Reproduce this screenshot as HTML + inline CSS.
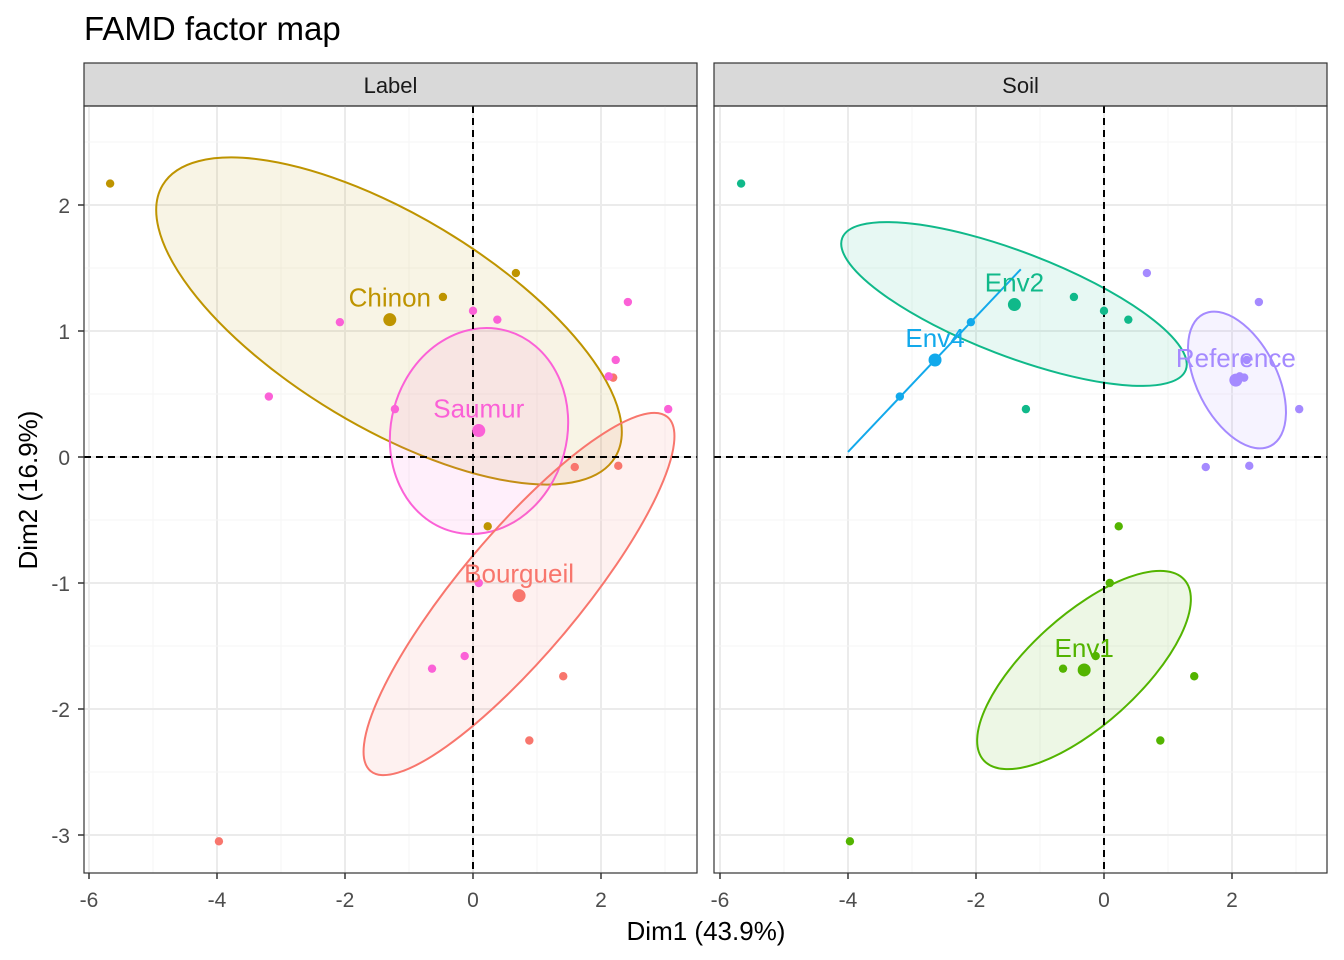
<!DOCTYPE html>
<html><head><meta charset="utf-8"><style>
html,body{margin:0;padding:0;background:#fff}
svg{display:block;font-family:"Liberation Sans",Arial,sans-serif}
</style></head><body>
<svg id="c" width="1344" height="960" viewBox="0 0 1344 960" xmlns="http://www.w3.org/2000/svg">
<text x="84" y="40" font-size="33" fill="#000">FAMD factor map</text>
<text x="706" y="940" font-size="26" text-anchor="middle">Dim1 (43.9%)</text>
<text transform="translate(37,490) rotate(-90)" font-size="26" text-anchor="middle">Dim2 (16.9%)</text>
<g id="g"></g>
</svg>
<script>
const NS="http://www.w3.org/2000/svg";
const px=[-5.67,-0.47,0.67,0.23,-2.08,-3.19,-1.22,0,0.38,2.42,2.23,3.05,0.09,-0.13,-0.64,1.59,2.27,2.19,1.41,0.88,-3.97,2.12];
const py=[2.17,1.27,1.46,-0.55,1.07,0.48,0.38,1.16,1.09,1.23,0.77,0.38,-1.0,-1.58,-1.68,-0.08,-0.07,0.63,-1.74,-2.25,-3.05,0.64];
const labelGroup=["Chinon","Chinon","Chinon","Chinon","Saumur","Saumur","Saumur","Saumur","Saumur","Saumur","Saumur","Saumur","Saumur","Saumur","Saumur","Bourgueil","Bourgueil","Bourgueil","Bourgueil","Bourgueil","Bourgueil","Saumur"];
const soilGroup=["Env2","Env2","Reference","Env1","Env4","Env4","Env2","Env2","Env2","Reference","Reference","Reference","Env1","Env1","Env1","Reference","Reference","Reference","Env1","Env1","Env1","Reference"];
const labelCats=["Chinon","Saumur","Bourgueil"];
const labelCx=[-1.3,0.09,0.72];
const labelCy=[1.09,0.21,-1.1];
const soilCats=["Env2","Env4","Reference","Env1"];
const soilCx=[-1.4,-2.64,2.06,-0.31];
const soilCy=[1.21,0.77,0.61,-1.69];
const colors={Bourgueil:"#F8766D",Chinon:"#BE9400",Env1:"#53B400",Env2:"#10B98A",Env4:"#12A9EB",Reference:"#A58AFF",Saumur:"#FB61D7"};
const ellRx={Chinon:264,Saumur:88,Bourgueil:231,Env2:184,Reference:74,Env1:135};
const ellRy={Chinon:106,Saumur:104,Bourgueil:60,Env2:52,Reference:40,Env1:55};
const ellRot={Chinon:31,Saumur:15,Bourgueil:-50,Env2:21,Reference:63,Env1:-42};
const ellCx={Chinon:389,Saumur:479,Bourgueil:519,Env2:1014,Reference:1237,Env1:1084};
const ellCy={Chinon:321,Saumur:431,Bourgueil:594,Env2:304,Reference:380,Env1:670};
const xTicks=[-6,-4,-2,0,2];
const yTicks=[-3,-2,-1,0,1,2];
const Y0=106,Y1=873;
const panels=[{x0:84,x1:697,ox:473,name:"Label",group:labelGroup,cats:labelCats,cx:labelCx,cy:labelCy},
              {x0:714,x1:1327,ox:1104,name:"Soil",group:soilGroup,cats:soilCats,cx:soilCx,cy:soilCy}];
const yS=v=>457-126*v;
const g=document.getElementById('g');
function el(t,a,p){const e=document.createElementNS(NS,t);for(const k in a)e.setAttribute(k,a[k]);(p||g).appendChild(e);return e;}
panels.forEach((P,pi)=>{
  const xS=v=>P.ox+64*v;
  const pg=el('g',{});
  
  
  el('rect',{x:P.x0,y:63,width:P.x1-P.x0,height:43,fill:"#D9D9D9",stroke:"#333","stroke-width":1.2},pg);
  const st=el('text',{x:(P.x0+P.x1)/2,y:93,"font-size":22,"text-anchor":"middle",fill:"#1a1a1a"},pg);st.textContent=P.name;
  
  
  const clip=el('clipPath',{id:'cp'+pi},pg);el('rect',{x:P.x0,y:Y0,width:P.x1-P.x0,height:Y1-Y0},clip);
  const inner=el('g',{'clip-path':'url(#cp'+pi+')'},pg);
  for(let v=-7;v<=4;v++){el('line',{x1:xS(v),x2:xS(v),y1:Y0,y2:Y1,stroke:v%2===0?"#EBEBEB":"#F5F5F5","stroke-width":v%2===0?2:1},inner);}
  for(let v=-3.5;v<=3;v+=0.5){el('line',{x1:P.x0,x2:P.x1,y1:yS(v),y2:yS(v),stroke:Number.isInteger(v)?"#EBEBEB":"#F5F5F5","stroke-width":Number.isInteger(v)?2:1},inner);}
  P.cats.forEach(c=>{
    if(c==="Env4")return;
    const e=el('ellipse',{cx:ellCx[c],cy:ellCy[c],rx:ellRx[c],ry:ellRy[c],transform:`rotate(${ellRot[c]} ${ellCx[c]} ${ellCy[c]})`,fill:colors[c],"fill-opacity":0.1,stroke:colors[c],"stroke-width":2},inner);
    
    
  });
  if(P.name==="Soil"){const l=el('line',{x1:xS(-4.0),y1:yS(0.04),x2:xS(-1.3),y2:yS(1.49),stroke:colors.Env4,"stroke-width":2},inner);
    
    }
  el('line',{x1:P.x0,x2:P.x1,y1:yS(0),y2:yS(0),stroke:"#000","stroke-width":2,"stroke-dasharray":"7,5"},inner);
  el('line',{x1:xS(0),x2:xS(0),y1:Y0,y2:Y1,stroke:"#000","stroke-width":2,"stroke-dasharray":"7,5"},inner);
  px.forEach((v,i)=>{const c=el('circle',{cx:xS(v),cy:yS(py[i]),r:4.2,fill:colors[P.group[i]]},inner);
    
    });
  P.cats.forEach((c,i)=>{
    const m=el('circle',{cx:xS(P.cx[i]),cy:yS(P.cy[i]),r:6.5,fill:colors[c]},inner);
    
    
    const t=el('text',{x:xS(P.cx[i]),y:yS(P.cy[i])-13,"font-size":26,"text-anchor":"middle",fill:colors[c]},inner);t.textContent=c;
    
    
  });
  el('rect',{x:P.x0,y:Y0,width:P.x1-P.x0,height:Y1-Y0,fill:"none",stroke:"#333","stroke-width":1.2},pg);
  xTicks.forEach(v=>{el('line',{x1:xS(v),x2:xS(v),y1:Y1,y2:Y1+6,stroke:"#333","stroke-width":1.5},pg);
    const t=el('text',{x:xS(v),y:Y1+34,"font-size":21,"text-anchor":"middle",fill:"#4D4D4D"},pg);t.textContent=v;
    
    });
  if(pi===0)yTicks.forEach(v=>{el('line',{x1:P.x0-6,x2:P.x0,y1:yS(v),y2:yS(v),stroke:"#333","stroke-width":1.5},pg);
    const t=el('text',{x:P.x0-14,y:yS(v)+8,"font-size":21,"text-anchor":"end",fill:"#4D4D4D"},pg);t.textContent=v;
    
    });
});
</script>
</body></html>
